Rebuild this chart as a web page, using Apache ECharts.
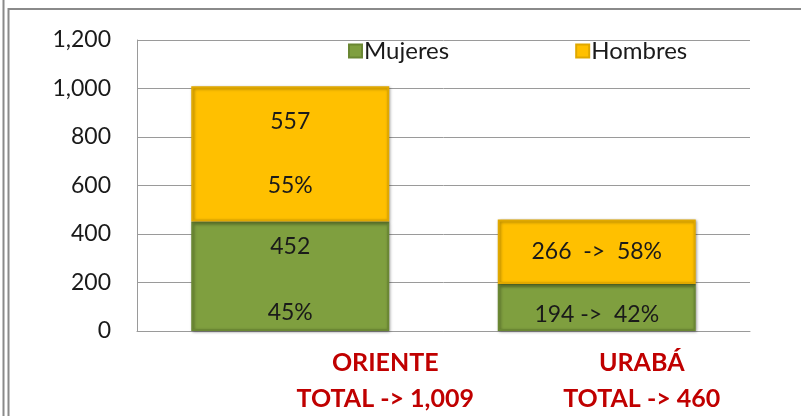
<!DOCTYPE html>
<html>
<head>
<meta charset="utf-8">
<script src="https://cdn.jsdelivr.net/npm/echarts@6/dist/echarts.min.js"></script>
<style>
  html, body { margin: 0; padding: 0; background: #fff; }
  #chart { width: 801px; height: 416px; }
</style>
</head>
<body>
<div id="chart"></div>
<script>
// datos por región
var regiones = ['ORIENTE', 'URABÁ'];
var mujeres = [452, 194];
var hombres = [557, 266];
var yTicks = [0, 200, 400, 600, 800, 1000, 1200];

var totales = regiones.map(function (r, i) { return mujeres[i] + hombres[i]; });

function miles(n) {
    return String(n).replace(/\B(?=(\d{3})+(?!\d))/g, ',');
}
function pct(v, i) {
    return Math.round(v * 100 / totales[i]) + '%';
}

var chart = echarts.init(document.getElementById('chart'));

var fuente = 'Lato, "Open Sans", sans-serif';

var opt = {
    animation: false,
    textStyle: { fontFamily: fuente },
    grid: { left: 137, right: 51, top: 40, bottom: 85 },
    legend: {
        left: 343,
        top: 34,
        itemWidth: 13,
        itemHeight: 13,
        itemGap: 126,
        icon: 'rect',
        textStyle: { fontSize: 24, color: '#1a1a1a', fontFamily: fuente, padding: [0, 0, 0, -3] },
        data: ['Mujeres', 'Hombres']
    },
    xAxis: {
        type: 'category',
        data: regiones,
        axisLine: { lineStyle: { color: '#9a9a9a', width: 1 } },
        axisTick: { show: false },
        axisLabel: {
            interval: 0,
            margin: 14,
            formatter: function (val, i) {
                var s = i === 0 ? 'a' : 'b';
                return '{' + s + '|' + val + '}\n{' + s + '|TOTAL -> ' + miles(totales[i]) + '}';
            },
            rich: {
                a: { fontSize: 25, fontWeight: 'bold', color: '#C00000', lineHeight: 36, padding: [0, 0, 0, 190], fontFamily: fuente },
                b: { fontSize: 25, fontWeight: 'bold', color: '#C00000', lineHeight: 36, padding: [0, 0, 0, 90], fontFamily: fuente }
            }
        }
    },
    yAxis: {
        type: 'value',
        min: yTicks[0],
        max: yTicks[yTicks.length - 1],
        interval: 200,
        axisLine: { show: true, lineStyle: { color: '#9a9a9a', width: 1 } },
        axisTick: { show: false },
        splitLine: { lineStyle: { color: '#9a9a9a', width: 1 } },
        axisLabel: {
            margin: 26,
            fontSize: 23,
            color: '#1a1a1a',
            formatter: function (v) { return miles(v); }
        }
    },
    series: [
        {
            name: 'Mujeres',
            type: 'bar',
            stack: 'total',
            barWidth: '64.6%',
            data: mujeres,
            itemStyle: {
                color: '#7F9F3F',
                borderColor: '#6A8733',
                borderWidth: 2,
                shadowColor: 'rgba(0,0,0,0.35)',
                shadowBlur: 3,
                shadowOffsetX: 1,
                shadowOffsetY: 1
            },
            label: {
                show: true,
                position: 'inside',
                fontSize: 23,
                color: '#1a1a1a',
                lineHeight: 33,
                formatter: function (p) {
                    if (p.dataIndex === 0) return p.value + '\n\n' + pct(p.value, 0);
                    return p.value + ' ->  ' + pct(p.value, p.dataIndex);
                }
            },
            labelLayout: function (p) {
                return p.dataIndex === 1 ? { dy: 7 } : { dy: 3 };
            }
        },
        {
            name: 'Hombres',
            type: 'bar',
            stack: 'total',
            data: hombres,
            itemStyle: {
                color: '#FFC000',
                borderColor: '#E0A800',
                borderWidth: 2,
                shadowColor: 'rgba(0,0,0,0.35)',
                shadowBlur: 3,
                shadowOffsetX: 1,
                shadowOffsetY: 1
            },
            label: {
                show: true,
                position: 'inside',
                fontSize: 23,
                color: '#1a1a1a',
                lineHeight: 32,
                formatter: function (p) {
                    if (p.dataIndex === 0) return p.value + '\n\n' + pct(p.value, 0);
                    return p.value + '  ->  ' + pct(p.value, p.dataIndex);
                }
            }
        }
    ],
    graphic: [
        { type: 'line', shape: { x1: 3.5, y1: 0, x2: 3.5, y2: 416 }, style: { stroke: '#8a8a8a', lineWidth: 2 } },
        { type: 'polyline', shape: { points: [[8.5, 416], [8.5, 9], [801, 9]] }, style: { stroke: '#8a8a8a', lineWidth: 2, fill: null } }
    ]
};

chart.setOption(opt);
</script>
</body>
</html>
